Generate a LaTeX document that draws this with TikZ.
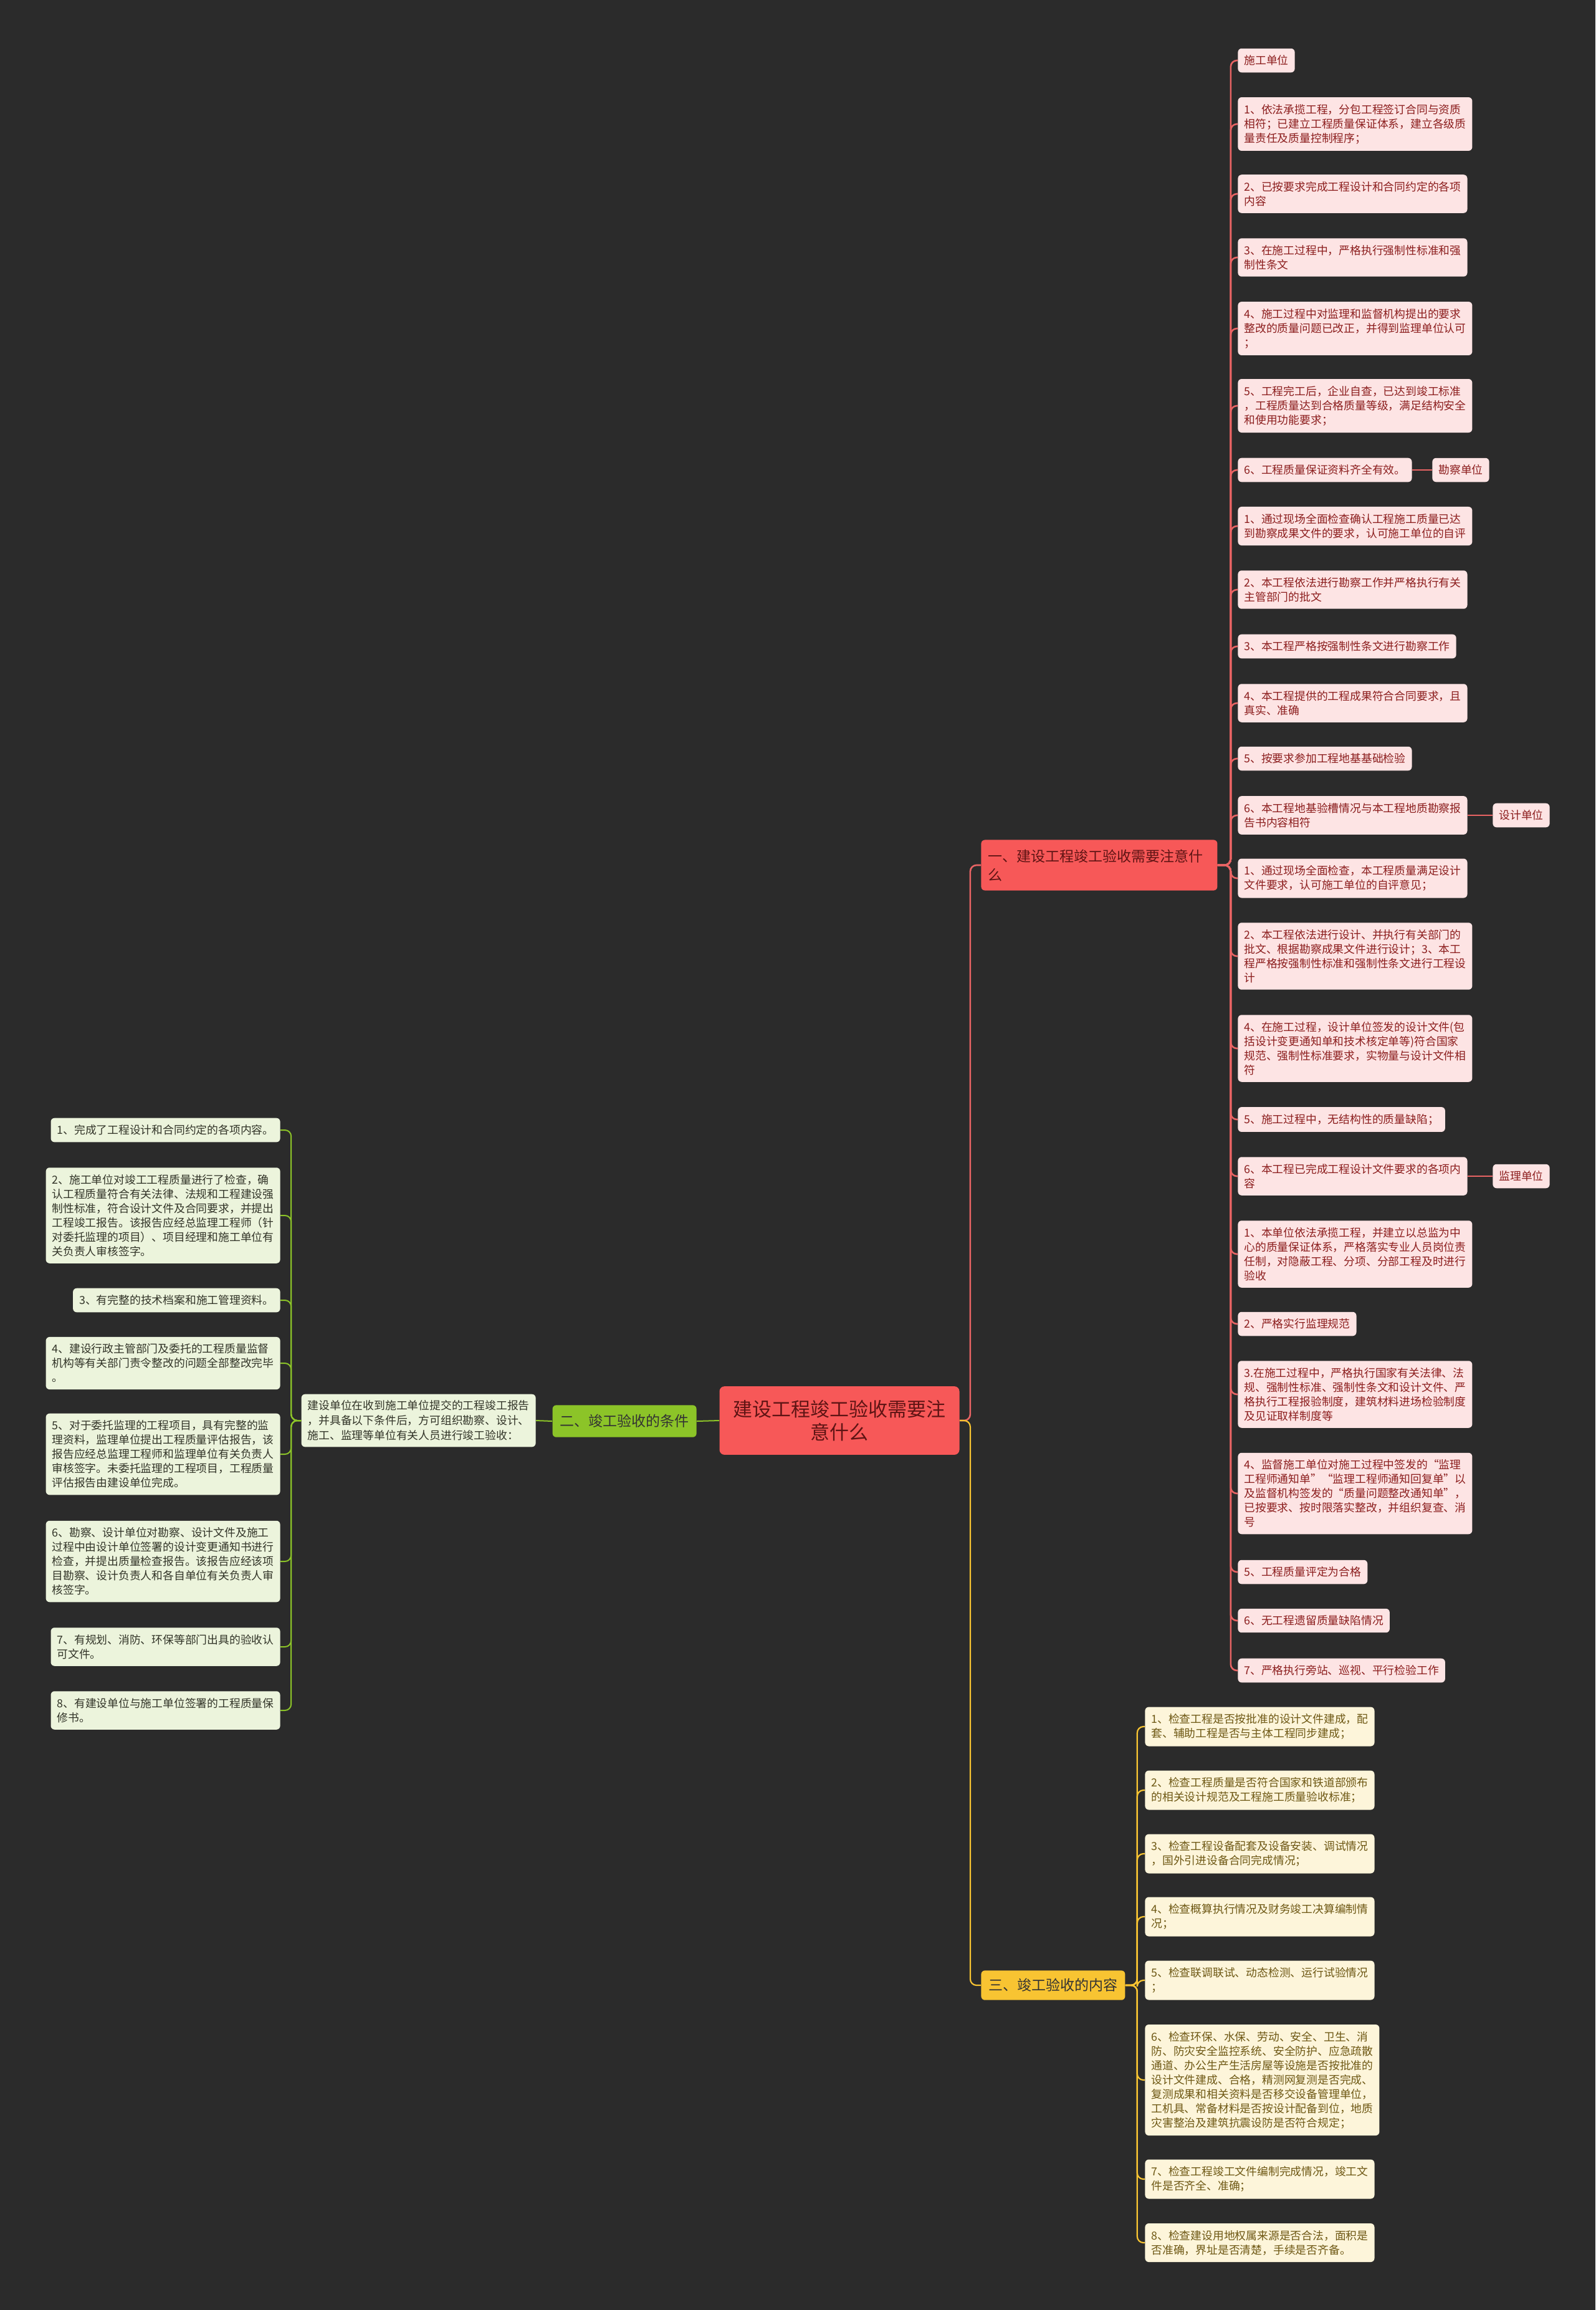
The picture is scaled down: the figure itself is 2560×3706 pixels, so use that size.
\documentclass[tikz,border=0pt]{standalone}
\usepackage{fontspec}
\setmainfont{Noto Sans CJK SC}
\usetikzlibrary{positioning, calc}

\definecolor{bgdark}{RGB}{43,43,43}
\definecolor{redmain}{RGB}{247,88,88}
\definecolor{redline}{RGB}{232,100,100}
\definecolor{redpale}{RGB}{253,228,228}
\definecolor{redtext}{RGB}{140,30,30}
\definecolor{roottext}{RGB}{95,20,20}
\definecolor{greenmain}{RGB}{140,196,40}
\definecolor{greenpale}{RGB}{236,244,220}
\definecolor{greentext}{RGB}{50,52,40}
\definecolor{yellowmain}{RGB}{248,196,50}
\definecolor{yellowpale}{RGB}{253,245,218}
\definecolor{yellowtext}{RGB}{110,88,20}

\begin{document}
\begin{tikzpicture}[x=0.5pt, y=-0.5pt,
    box/.style={rounded corners=3pt, inner xsep=5pt, inner ysep=5.5pt, align=left,
        font=\fontsize{8.9pt}{11.5pt}\selectfont},
    redleaf/.style={box, fill=redpale, text=redtext, anchor=west},
    greenleaf/.style={box, fill=greenpale, text=greentext, anchor=east},
    yellowleaf/.style={box, fill=yellowpale, text=yellowtext, anchor=west},
    branch/.style={rounded corners=3pt, inner xsep=6pt, inner ysep=7.5pt, align=left,
        font=\fontsize{11.5pt}{15pt}\selectfont},
    rlink/.style={draw=redline, line width=1.3pt, rounded corners=5pt},
    glink/.style={draw=greenmain, line width=1pt, rounded corners=5pt},
    ylink/.style={draw=yellowmain, line width=1.1pt, rounded corners=5pt}]

    % Background
    \fill[bgdark] (0,0) rectangle (2560,3706);
    \useasboundingbox (0,0) rectangle (2560,3706);

    % Root
    \node[fill=redmain, text=roottext, rounded corners=4pt, align=center,
        inner xsep=11pt, inner ysep=11pt, font=\fontsize{15.5pt}{18.5pt}\selectfont]
        (root) at (1347,2279) {建设工程竣工验收需要注\\意什么};

    % Branches
    \node[branch, fill=redmain, text=roottext, anchor=west, text width=178.5pt,
        inner xsep=5.5pt] (rb) at (1574,1388) {一、建设工程竣工验收需要注意什\\么};
    \node[branch, fill=greenmain, text=black!80, anchor=east] (gb) at (1118,2280) {二、竣工验收的条件};
    \node[branch, fill=yellowmain, text=black!80, anchor=west, inner ysep=6.5pt] (yb) at (1574,3185) {三、竣工验收的内容};

    % Red leaves
    \node[redleaf] (r0) at (1986,97) {施工单位};
    \node[redleaf] (r1) at (1986,199) {1、依法承揽工程，分包工程签订合同与资质\\相符；已建立工程质量保证体系，建立各级质\\量责任及质量控制程序；};
    \node[redleaf] (r2) at (1986,311) {2、已按要求完成工程设计和合同约定的各项\\内容};
    \node[redleaf] (r3) at (1986,413) {3、在施工过程中，严格执行强制性标准和强\\制性条文};
    \node[redleaf] (r4) at (1986,527) {4、施工过程中对监理和监督机构提出的要求\\整改的质量问题已改正，并得到监理单位认可\\；};
    \node[redleaf] (r5) at (1986,651) {5、工程完工后，企业自查，已达到竣工标准\\，工程质量达到合格质量等级，满足结构安全\\和使用功能要求；};
    \node[redleaf] (r6) at (1986,754) {6、工程质量保证资料齐全有效。};
    \node[redleaf] (kc) at (2298,754) {勘察单位};
    \node[redleaf] (k1) at (1986,844) {1、通过现场全面检查确认工程施工质量已达\\到勘察成果文件的要求，认可施工单位的自评};
    \node[redleaf] (k2) at (1986,946) {2、本工程依法进行勘察工作并严格执行有关\\主管部门的批文};
    \node[redleaf] (k3) at (1986,1037) {3、本工程严格按强制性条文进行勘察工作};
    \node[redleaf] (k4) at (1986,1128) {4、本工程提供的工程成果符合合同要求，且\\真实、准确};
    \node[redleaf] (k5) at (1986,1217) {5、按要求参加工程地基基础检验};
    \node[redleaf] (k6) at (1986,1308) {6、本工程地基验槽情况与本工程地质勘察报\\告书内容相符};
    \node[redleaf] (sj) at (2395,1308) {设计单位};
    \node[redleaf] (s1) at (1986,1409) {1、通过现场全面检查，本工程质量满足设计\\文件要求，认可施工单位的自评意见；};
    \node[redleaf] (s2) at (1986,1534) {2、本工程依法进行设计、并执行有关部门的\\批文、根据勘察成果文件进行设计；3、本工\\程严格按强制性标准和强制性条文进行工程设\\计};
    \node[redleaf] (s4) at (1986,1682) {4、在施工过程，设计单位签发的设计文件(包\\括设计变更通知单和技术核定单等)符合国家\\规范、强制性标准要求，实物量与设计文件相\\符};
    \node[redleaf] (s5) at (1986,1796) {5、施工过程中，无结构性的质量缺陷；};
    \node[redleaf] (s6) at (1986,1887) {6、本工程已完成工程设计文件要求的各项内\\容};
    \node[redleaf] (jl) at (2395,1887) {监理单位};
    \node[redleaf] (j1) at (1986,2012) {1、本单位依法承揽工程，并建立以总监为中\\心的质量保证体系，严格落实专业人员岗位责\\任制，对隐蔽工程、分项、分部工程及时进行\\验收};
    \node[redleaf] (j2) at (1986,2124) {2、严格实行监理规范};
    \node[redleaf] (j3) at (1986,2237) {3.在施工过程中，严格执行国家有关法律、法\\规、强制性标准、强制性条文和设计文件、严\\格执行工程报验制度，建筑材料进场检验制度\\及见证取样制度等};
    \node[redleaf] (j4) at (1986,2396) {4、监督施工单位对施工过程中签发的“监理\\工程师通知单”“监理工程师通知回复单”以\\及监督机构签发的“质量问题整改通知单”，\\已按要求、按时限落实整改，并组织复查、消\\号};
    \node[redleaf] (j5) at (1986,2522) {5、工程质量评定为合格};
    \node[redleaf] (j6) at (1986,2600) {6、无工程遗留质量缺陷情况};
    \node[redleaf] (j7) at (1986,2680) {7、严格执行旁站、巡视、平行检验工作};

    % Green leaves
    \node[greenleaf, font=\fontsize{8.9pt}{12pt}\selectfont, inner ysep=5pt] (gm) at (860,2279) {建设单位在收到施工单位提交的工程竣工报告\\，并具备以下条件后，方可组织勘察、设计、\\施工、监理等单位有关人员进行竣工验收：};
    \node[greenleaf] (g1) at (450,1813) {1、完成了工程设计和合同约定的各项内容。};
    \node[greenleaf] (g2) at (450,1950) {2、施工单位对竣工工程质量进行了检查，确\\认工程质量符合有关法律、法规和工程建设强\\制性标准，符合设计文件及合同要求，并提出\\工程竣工报告。该报告应经总监理工程师（针\\对委托监理的项目）、项目经理和施工单位有\\关负责人审核签字。};
    \node[greenleaf] (g3) at (450,2086) {3、有完整的技术档案和施工管理资料。};
    \node[greenleaf] (g4) at (450,2187) {4、建设行政主管部门及委托的工程质量监督\\机构等有关部门责令整改的问题全部整改完毕\\。};
    \node[greenleaf] (g5) at (450,2333) {5、对于委托监理的工程项目，具有完整的监\\理资料，监理单位提出工程质量评估报告，该\\报告应经总监理工程师和监理单位有关负责人\\审核签字。未委托监理的工程项目，工程质量\\评估报告由建设单位完成。};
    \node[greenleaf] (g6) at (450,2505) {6、勘察、设计单位对勘察、设计文件及施工\\过程中由设计单位签署的设计变更通知书进行\\检查，并提出质量检查报告。该报告应经该项\\目勘察、设计负责人和各自单位有关负责人审\\核签字。};
    \node[greenleaf] (g7) at (450,2642) {7、有规划、消防、环保等部门出具的验收认\\可文件。};
    \node[greenleaf] (g8) at (450,2744) {8、有建设单位与施工单位签署的工程质量保\\修书。};

    % Yellow leaves
    \node[yellowleaf] (y1) at (1837,2770) {1、检查工程是否按批准的设计文件建成，配\\套、辅助工程是否与主体工程同步建成；};
    \node[yellowleaf] (y2) at (1837,2872) {2、检查工程质量是否符合国家和铁道部颁布\\的相关设计规范及工程施工质量验收标准；};
    \node[yellowleaf] (y3) at (1837,2974) {3、检查工程设备配套及设备安装、调试情况\\，国外引进设备合同完成情况；};
    \node[yellowleaf] (y4) at (1837,3075) {4、检查概算执行情况及财务竣工决算编制情\\况；};
    \node[yellowleaf] (y5) at (1837,3177) {5、检查联调联试、动态检测、运行试验情况\\；};
    \node[yellowleaf] (y6) at (1837,3337) {6、检查环保、水保、劳动、安全、卫生、消\\防、防灾安全监控系统、安全防护、应急疏散\\通道、办公生产生活房屋等设施是否按批准的\\设计文件建成、合格，精测网复测是否完成、\\复测成果和相关资料是否移交设备管理单位，\\工机具、常备材料是否按设计配备到位，地质\\灾害整治及建筑抗震设防是否符合规定；};
    \node[yellowleaf] (y7) at (1837,3496) {7、检查工程竣工文件编制完成情况，竣工文\\件是否齐全、准确；};
    \node[yellowleaf] (y8) at (1837,3598) {8、检查建设用地权属来源是否合法，面积是\\否准确，界址是否清楚，手续是否齐备。};

    % Root links
    \draw[rlink] (root.east) -- ++(17,0) |- (rb.west);
    \draw[ylink] (root.east) -- ++(17,0) |- (yb.west);
    \draw[glink] (root.west) -- (gb.east);
    \draw[glink] (gb.west) -- (gm.east);

    % Red links
    \foreach \n in {r0,r1,r2,r3,r4,r5,r6,k1,k2,k3,k4,k5,k6,s1,s2,s4,s5,s6,j1,j2,j3,j4,j5,j6,j7}
        \draw[rlink] (rb.east) -- ++(21,0) |- (\n.west);
    \draw[rlink] (r6.east) -- (kc.west);
    \draw[rlink] (k6.east) -- (sj.west);
    \draw[rlink] (s6.east) -- (jl.west);

    % Green links
    \foreach \n in {g1,g2,g3,g4,g5,g6,g7,g8}
        \draw[glink] (gm.west) -- ++(-16,0) |- (\n.east);

    % Yellow links
    \foreach \n in {y1,y2,y3,y4,y5,y6,y7,y8}
        \draw[ylink] (yb.east) -- ++(19,0) |- (\n.west);
\end{tikzpicture}
\end{document}
